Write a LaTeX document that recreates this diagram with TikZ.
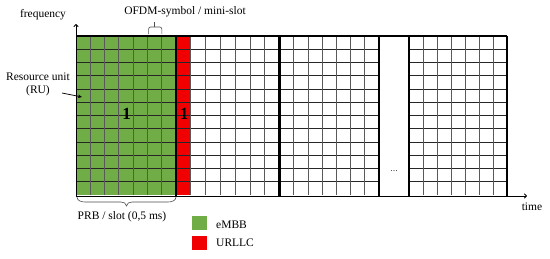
\documentclass[tikz,border=0pt]{standalone}
\usepackage{fontspec}
\setmainfont{Liberation Serif}
\usetikzlibrary{arrows.meta}
\definecolor{embb}{RGB}{112,173,71}
\definecolor{urllc}{RGB}{240,0,0}
\tikzset{
  gridline/.style={line width=0.8pt, black!85},
  vgridline/.style={line width=0.8pt, black!65},
  slotline/.style={line width=2.6pt, black},
  axis/.style={line width=1pt, black, -{To[length=3pt,width=5pt]}},
  lbl/.style={font=\fontsize{11.5}{13}\selectfont, inner sep=0pt},
  big/.style={font=\fontsize{17}{18}\selectfont\bfseries, inner sep=0pt},
  bracketline/.style={line width=0.6pt, black!70, rounded corners=2pt},
}
\begin{document}
\begin{tikzpicture}[x=1pt,y=-1pt]
\useasboundingbox (0,0) rectangle (550,258);
% fills
\fill[embb] (76,36) rectangle (176,195);
\fill[urllc] (176,36) rectangle (191,195);
% horizontal grid lines
\foreach \k in {1,...,11} {
  \pgfmathsetmacro{\yy}{36+\k*13.25}
  \draw[gridline] (76,\yy) -- (379,\yy);
  \draw[gridline] (409,\yy) -- (507,\yy);
}
% vertical grid lines per slot
\foreach \xa/\xb in {76/176, 176/279.5, 279.5/379, 409/507} {
  \foreach \c in {1,...,6} {
    \pgfmathsetmacro{\xx}{\xa+\c*(\xb-\xa)/7}
    \draw[vgridline] (\xx,36) -- (\xx,195);
  }
}
% top border
\draw[line width=1.6pt] (76,36) -- (507,36);
% slot boundaries
\foreach \xx in {176,279.5,379,409,507} {
  \draw[slotline] (\xx,36) -- (\xx,196);
}
% axes
\coordinate (o) at (76,196);
\coordinate (ftip) at (76,24);
\coordinate (ttip) at (527,196);
\draw[axis] (o) -- (ftip);
\draw[axis] (o) -- (ttip);
% labels
\node[lbl] (freq) at (43,15) {frequency};
\node[lbl] (time) at (532,207) {time};
\node[lbl] (ofdm) at (185,12) {OFDM-symbol / mini-slot};
\node[lbl, align=center] (ru) at (38,84) {Resource unit\\(RU)};
\coordinate (rutip) at (82,97);
\draw[-{Stealth[length=4pt,width=3.5pt]}, line width=0.7pt] (62,93) -- (rutip);
\node[big] (one1) at (126.5,114) {1};
\node[big] (one2) at (184,114) {1};
\node[lbl, font=\fontsize{10}{11}\selectfont, text=black!70] (dots) at (394,171) {...};
% top bracket
\draw[bracketline] (148.6,34) -- (148.6,27) -- (161.8,27) -- (161.8,34);
\draw[line width=0.6pt, black!70] (154,27) -- (154,22);
% bottom brace
\draw[line width=0.6pt, black!70] (77,197) to[out=-90,in=180] (85,202) -- (121,202) to[out=0,in=90] (126.5,206)
  to[out=90,in=180] (132,202) -- (168,202) to[out=0,in=-90] (176,197);
\node[lbl] (prb) at (122,217) {PRB / slot (0,5 ms)};
% legend
\node[fill=embb, minimum width=15pt, minimum height=14pt, inner sep=0pt] (lg) at (199,223) {};
\node[fill=urllc, minimum width=15pt, minimum height=14pt, inner sep=0pt] (lr) at (199,243) {};
\node[lbl, anchor=west] (embbtxt) at (216,224.5) {eMBB};
\node[lbl, anchor=west] (urllctxt) at (216,243) {URLLC};
\end{tikzpicture}
\end{document}
